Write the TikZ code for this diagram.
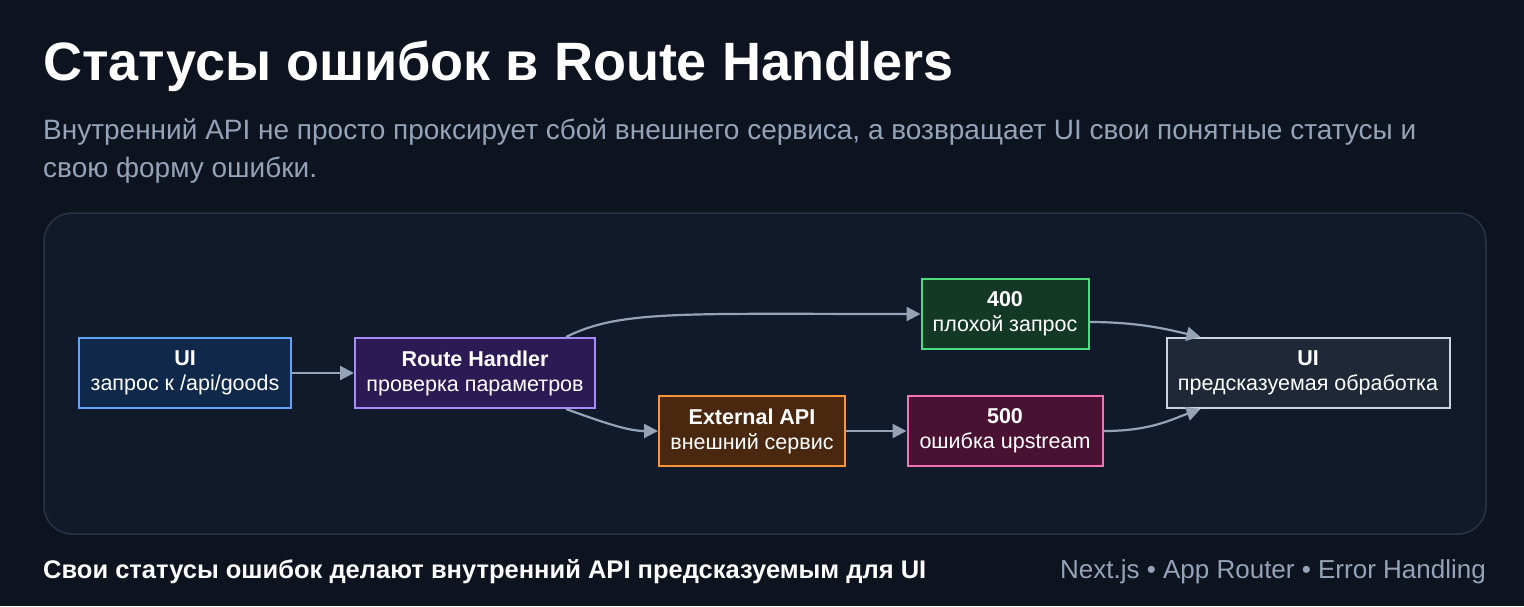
\documentclass[tikz,border=0pt]{standalone}
\usepackage{fontspec}
\setmainfont{Liberation Sans}
\usetikzlibrary{calc,arrows.meta}
\definecolor{bg}{HTML}{0E1320}
\definecolor{panel}{HTML}{111A2B}
\definecolor{panelb}{HTML}{2A3344}
\definecolor{sub}{HTML}{94A3B8}
\definecolor{edge}{HTML}{94A3B8}
\definecolor{b1}{HTML}{60A5FA}\definecolor{f1}{HTML}{10294A}
\definecolor{b2}{HTML}{A78BFA}\definecolor{f2}{HTML}{2C1A55}
\definecolor{b3}{HTML}{FB923C}\definecolor{f3}{HTML}{4A2810}
\definecolor{b4}{HTML}{4ADE80}\definecolor{f4}{HTML}{143826}
\definecolor{b5}{HTML}{F472B6}\definecolor{f5}{HTML}{4A1232}
\definecolor{b6}{HTML}{CBD5E1}\definecolor{f6}{HTML}{1E2836}
\begin{document}
\begin{tikzpicture}[x=1pt,y=-1pt,
  box/.style={draw,line width=2pt,minimum height=70pt,align=center,font=\fontsize{21.5}{25}\selectfont,text=white,inner sep=2pt},
  arr/.style={draw=edge,line width=2.2pt,-{Triangle[length=14pt,width=14pt]}}]
\fill[bg] (0,0) rectangle (1524,606);
\useasboundingbox (0,0) rectangle (1524,606);
\node[anchor=base west,text=white,font=\fontsize{54}{60}\selectfont\bfseries,inner sep=0] (t) at (43,80) {Статусы ошибок в Route Handlers};
\node[anchor=base west,text=sub,font=\fontsize{28}{34}\selectfont,inner sep=0] (s1) at (43,139) {Внутренний API не просто проксирует сбой внешнего сервиса, а возвращает UI свои понятные статусы и};
\node[anchor=base west,text=sub,font=\fontsize{28}{34}\selectfont,inner sep=0] (s2) at (43,177) {свою форму ошибки.};
\draw[panelb,fill=panel,line width=1.5pt,rounded corners=28pt] (44,213) rectangle (1486,534);
\node[box,draw=b1,fill=f1,minimum width=212pt] (u1) at (185,373) {\textbf{UI}\\запрос к /api/goods};
\node[box,draw=b2,fill=f2,minimum width=240pt] (rh) at (475,373) {\textbf{Route Handler}\\проверка параметров};
\node[box,draw=b3,fill=f3,minimum width=186pt] (ex) at (752,431) {\textbf{External API}\\внешний сервис};
\node[box,draw=b4,fill=f4,minimum width=167pt] (n4) at (1005,314) {\textbf{400}\\плохой запрос};
\node[box,draw=b5,fill=f5,minimum width=195pt] (n5) at (1005,431) {\textbf{500}\\ошибка upstream};
\node[box,draw=b6,fill=f6,minimum width=283pt] (u2) at (1308,373) {\textbf{UI}\\предсказуемая обработка};
\draw[arr] (u1) -- (rh);
\draw[arr] ($(rh.north east)+(-30,0)$) .. controls (620,310) and (680,314) .. (n4.west);
\draw[arr] ($(rh.south east)+(-30,0)$) .. controls (610,425) and (630,431) .. (ex.west);
\draw[arr] (ex) -- (n5);
\draw[arr] ($(n4.east)+(0,8)$) .. controls (1140,322) and (1170,330) .. ($(u2.north west)+(35,0)$);
\draw[arr] (n5.east) .. controls (1150,431) and (1170,420) .. ($(u2.south west)+(35,0)$);
\node[anchor=base west,text=white,font=\fontsize{25.5}{30}\selectfont\bfseries,inner sep=0] (ft1) at (43,578) {Свои статусы ошибок делают внутренний API предсказуемым для UI};
\node[anchor=base east,text=sub,font=\fontsize{26}{30}\selectfont,inner sep=0] (ft2) at (1486,578) {Next.js • App Router • Error Handling};
\end{tikzpicture}
\end{document}
